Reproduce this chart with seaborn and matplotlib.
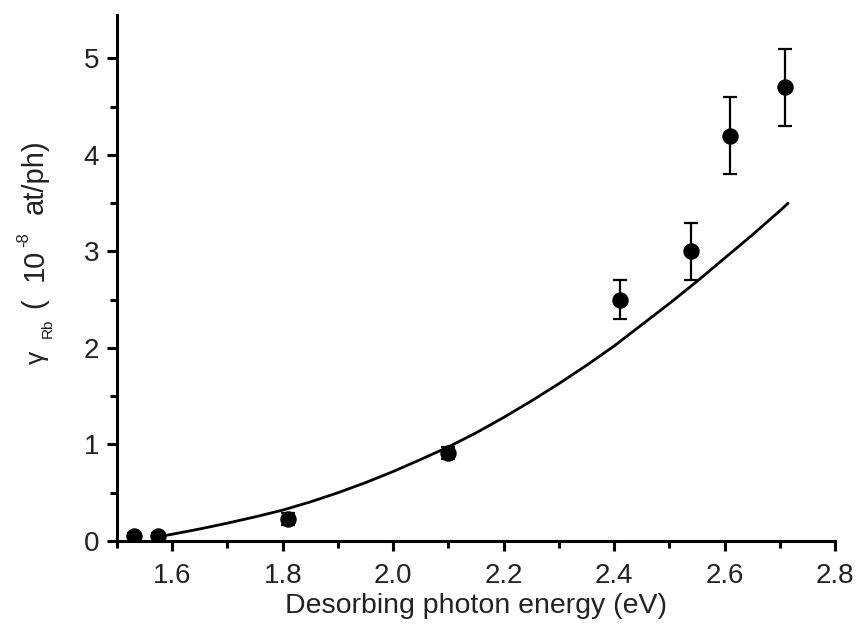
import numpy as np
import pandas as pd
import matplotlib
matplotlib.use("Agg")
import matplotlib.pyplot as plt
from matplotlib.ticker import MultipleLocator
import seaborn as sns

# measured data
energy = [1.53, 1.575, 1.81, 2.10, 2.41, 2.54, 2.61, 2.71]
yield_rb = [0.05, 0.05, 0.23, 0.91, 2.50, 3.00, 4.20, 4.70]
yield_err = [0.03, 0.03, 0.06, 0.06, 0.20, 0.30, 0.40, 0.40]

# fitted curve
fit_x = [1.58, 1.60, 1.65, 1.70, 1.75, 1.80, 1.85, 1.90, 1.95, 2.00, 2.05, 2.10, 2.15,
         2.20, 2.25, 2.30, 2.35, 2.40, 2.45, 2.50, 2.55, 2.60, 2.65, 2.70, 2.715]
fit_y = [0.05, 0.07, 0.125, 0.185, 0.25, 0.32, 0.405, 0.50, 0.605, 0.72, 0.845, 0.975, 1.12,
         1.28, 1.45, 1.63, 1.82, 2.02, 2.24, 2.46, 2.69, 2.93, 3.17, 3.42, 3.50]

sns.set_theme(style="ticks")
plt.rcParams['font.family'] = ['Liberation Sans', 'DejaVu Sans']

W, H = 860, 634
fig = plt.figure(figsize=(W / 100, H / 100), dpi=100)
ax = fig.add_axes([117 / W, (H - 541) / H, (835 - 117) / W, (541 - 15) / H])

df_fit = pd.DataFrame({"x": fit_x, "y": fit_y})
df_pts = pd.DataFrame({"x": energy, "y": yield_rb, "err": yield_err})

sns.lineplot(data=df_fit, x="x", y="y", ax=ax, color="black", linewidth=2.0, zorder=2)
ax.errorbar(df_pts["x"], df_pts["y"], yerr=df_pts["err"], fmt="none",
            ecolor="black", elinewidth=1.6, capsize=4.7, capthick=1.6, zorder=3)
sns.scatterplot(data=df_pts, x="x", y="y", ax=ax, color="black", s=140,
                edgecolor="black", linewidth=0, zorder=4)

ax.set_xlim(1.5, 2.8)
ax.set_ylim(0, 5.45)
ax.xaxis.set_minor_locator(MultipleLocator(0.1))
ax.yaxis.set_major_locator(MultipleLocator(1))
ax.yaxis.set_minor_locator(MultipleLocator(0.5))
xt = [1.6, 1.8, 2.0, 2.2, 2.4, 2.6, 2.8]
ax.set_xticks(xt)
ax.set_xticklabels([f"{v:.1f}" for v in xt])

for s in ["top", "right"]:
    ax.spines[s].set_visible(False)
for s in ["left", "bottom"]:
    ax.spines[s].set_linewidth(2.2)
    ax.spines[s].set_color("black")

ax.tick_params(axis="both", which="major", direction="out", length=7, width=2.2,
               labelsize=20, colors="black", labelcolor="#222222")
ax.tick_params(axis="x", which="major", pad=9)
ax.tick_params(axis="y", which="major", pad=6)
ax.tick_params(axis="both", which="minor", direction="out", length=5, width=2.2, colors="black")

ax.set_xlabel("Desorbing photon energy (eV)", fontsize=20.5, color="#222222", labelpad=3)
ax.set_ylabel("")

# y-axis label built from pieces (gamma, subscript, superscript)
def ptxt(x, y, s, size):
    fig.text(x / W, 1 - y / H, s, rotation=90, ha="center", va="center",
             fontsize=size, color="#222222")

ptxt(37, 357, "γ", 19)
ptxt(48, 328, "Rb", 11)
ptxt(34, 303, "(", 21)
ptxt(35, 265, "10", 21)
ptxt(24, 240, "-8", 12)
ptxt(35, 177, "at/ph)", 21)

fig.savefig("out.png", dpi=100)
